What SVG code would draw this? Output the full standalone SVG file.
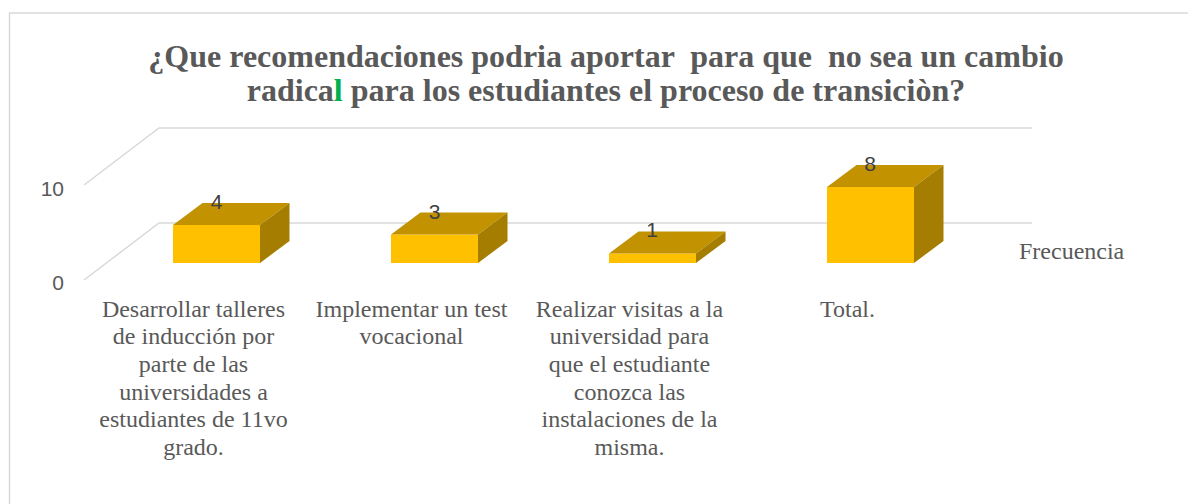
<svg xmlns="http://www.w3.org/2000/svg" width="1188" height="504" viewBox="0 0 1188 504">
  <style>
    .title { font-family: "Liberation Serif", "Times New Roman", serif; font-weight: bold; font-size: 32px; fill: #595959; text-anchor: middle; white-space: pre; }
    .cat { font-family: "Liberation Serif", "Times New Roman", serif; font-size: 24px; fill: #595959; text-anchor: middle; }
    .axis { font-family: "Liberation Sans", Arial, sans-serif; font-size: 21px; fill: #595959; text-anchor: end; }
    .val { font-family: "Liberation Sans", Arial, sans-serif; font-size: 21px; fill: #404040; text-anchor: middle; }
    .grid { fill: none; stroke: #d9d9d9; stroke-width: 1.5; }
    .front { fill: #FFC000; }
    .top { fill: #C29200; }
    .side { fill: #A57D00; }
  </style>
  <rect x="0" y="0" width="1188" height="504" fill="#ffffff"/>
  <path d="M9.5,504 V13 H1188" fill="none" stroke="#d9d9d9" stroke-width="1.5"/>

  <g id="title">
    <text class="title" x="606" y="66.5" xml:space="preserve">¿Que recomendaciones podria aportar  para que  no sea un cambio</text>
    <text class="title" x="606" y="101">radica<tspan fill="#00B050">l</tspan> para los estudiantes el proceso de transiciòn?</text>
  </g>

  <g id="gridlines">
    <path class="grid" d="M84,185 L159,128 H1032"/>
    <path class="grid" d="M84,280 L159,223 H1032"/>
  </g>

  <g id="axis">
    <text class="axis" x="64" y="195.5">10</text>
    <text class="axis" x="64" y="290">0</text>
  </g>

  <g id="bar1">
    <polygon class="front" points="173,225 260,225 260,263 173,263"/>
    <polygon class="top" points="173,225 202.5,203 289.5,203 260,225"/>
    <polygon class="side" points="260,225 289.5,203 289.5,241 260,263"/>
    <text class="val" x="216.5" y="208.5">4</text>
  </g>
  <g id="bar2">
    <polygon class="front" points="391,234.5 478,234.5 478,263 391,263"/>
    <polygon class="top" points="391,234.5 420.5,212.5 507.5,212.5 478,234.5"/>
    <polygon class="side" points="478,234.5 507.5,212.5 507.5,241 478,263"/>
    <text class="val" x="434.5" y="218.5">3</text>
  </g>
  <g id="bar3">
    <polygon class="front" points="609,253.5 696,253.5 696,263 609,263"/>
    <polygon class="top" points="609,253.5 638.5,231.5 725.5,231.5 696,253.5"/>
    <polygon class="side" points="696,253.5 725.5,231.5 725.5,241 696,263"/>
    <text class="val" x="652" y="236.5">1</text>
  </g>
  <g id="bar4">
    <polygon class="front" points="827,187 914,187 914,263 827,263"/>
    <polygon class="top" points="827,187 856.5,165 943.5,165 914,187"/>
    <polygon class="side" points="914,187 943.5,165 943.5,241 914,263"/>
    <text class="val" x="870" y="170.5">8</text>
  </g>

  <g id="legend">
    <text x="1019" y="259" font-family="Liberation Serif, Times New Roman, serif" font-size="24" fill="#595959">Frecuencia</text>
  </g>

  <g id="cat1">
    <text class="cat" x="193.5" y="316.7">Desarrollar talleres</text>
    <text class="cat" x="193.5" y="344.3">de inducción por</text>
    <text class="cat" x="193.5" y="371.9">parte de las</text>
    <text class="cat" x="193.5" y="399.5">universidades a</text>
    <text class="cat" x="193.5" y="427.1">estudiantes de 11vo</text>
    <text class="cat" x="193.5" y="454.7">grado.</text>
  </g>
  <g id="cat2">
    <text class="cat" x="411.5" y="316.7">Implementar un test</text>
    <text class="cat" x="411.5" y="344.3">vocacional</text>
  </g>
  <g id="cat3">
    <text class="cat" x="629.5" y="316.7">Realizar visitas a la</text>
    <text class="cat" x="629.5" y="344.3">universidad para</text>
    <text class="cat" x="629.5" y="371.9">que el estudiante</text>
    <text class="cat" x="629.5" y="399.5">conozca las</text>
    <text class="cat" x="629.5" y="427.1">instalaciones de la</text>
    <text class="cat" x="629.5" y="454.7">misma.</text>
  </g>
  <g id="cat4">
    <text class="cat" x="847.5" y="316.7">Total.</text>
  </g>
</svg>
